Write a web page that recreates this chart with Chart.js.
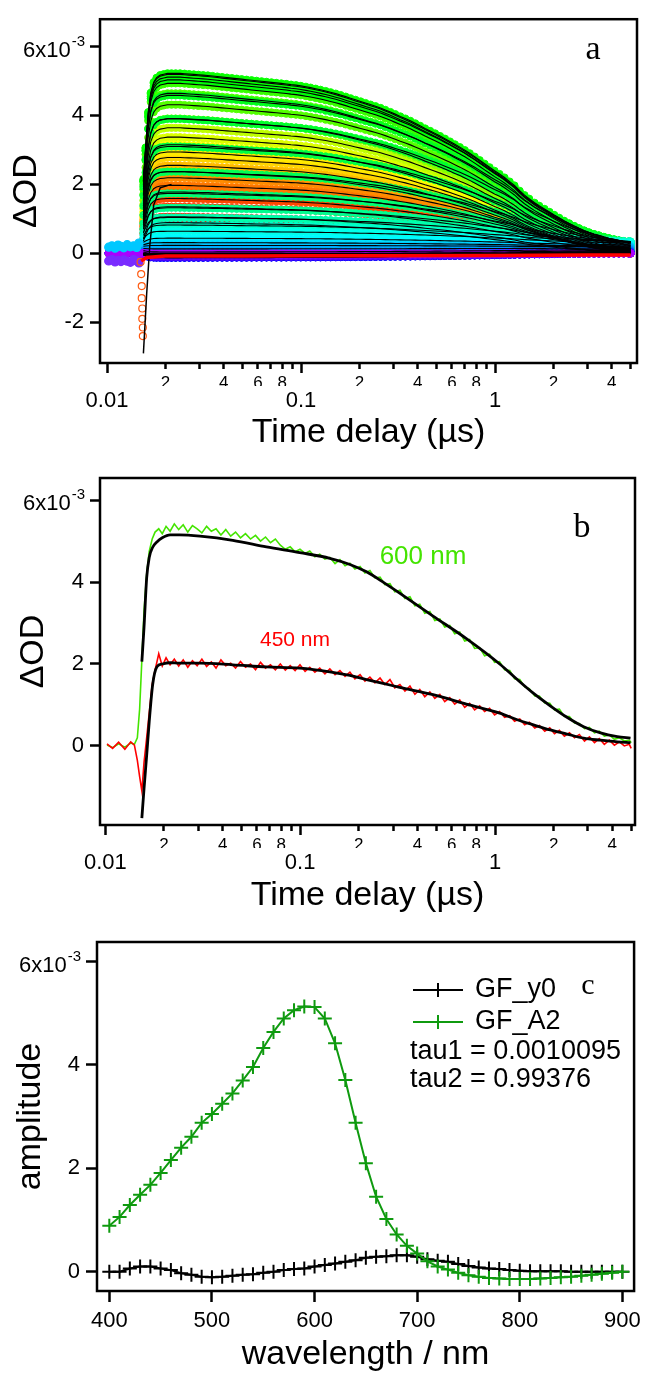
<!DOCTYPE html>
<html>
<head>
<meta charset="utf-8">
<script src="https://cdn.jsdelivr.net/npm/chart.js@4.4.1/dist/chart.umd.min.js"></script>
<style>
  html, body { margin: 0; padding: 0; background: #fff; }
  #page { position: relative; width: 647px; height: 1378px; }
  .panel { position: absolute; left: 0; width: 647px; }
</style>
</head>
<body>
<div id="page">
  <div class="panel" style="top:0;height:450px"><canvas id="chartA"></canvas></div>
  <div class="panel" style="top:450px;height:463px"><canvas id="chartB"></canvas></div>
  <div class="panel" style="top:913px;height:465px"><canvas id="chartC"></canvas></div>
</div>
<script>
// values in units of 1e-3 OD

// time grid of the recorded traces (us)
const tData = [
  0.0102, 0.0109, 0.0117, 0.0126, 0.0135, 0.0141, 0.0146, 0.0150, 0.0154, 0.0158,
  0.0163, 0.0168, 0.0174, 0.0180, 0.0188, 0.0196, 0.0205, 0.0215, 0.0226, 0.0238,
  0.0251, 0.0265, 0.0280, 0.0296, 0.0313, 0.0331, 0.0350, 0.0370, 0.0392, 0.0415,
  0.0440, 0.0466, 0.0494, 0.0524, 0.0556, 0.0590, 0.0626, 0.0664, 0.0704, 0.0746,
  0.0791, 0.0839, 0.0889, 0.0942, 0.0998, 0.106, 0.112, 0.119, 0.126, 0.134,
  0.142, 0.151, 0.160, 0.170, 0.180, 0.191, 0.203, 0.215, 0.228, 0.242,
  0.257, 0.272, 0.289, 0.306, 0.325, 0.345, 0.366, 0.388, 0.411, 0.436,
  0.463, 0.491, 0.521, 0.552, 0.586, 0.621, 0.659, 0.699, 0.741, 0.786,
  0.834, 0.884, 0.938, 0.995, 1.055, 1.12, 1.19, 1.26, 1.34, 1.42,
  1.50, 1.60, 1.69, 1.80, 1.91, 2.02, 2.14, 2.27, 2.41, 2.56,
  2.71, 2.88, 3.05, 3.24, 3.43, 3.64, 3.86, 4.10, 4.35, 4.61,
  4.89, 5.00
];

// normalised kinetic profile of the global fit (panel a), null before t0
const profileA = [
  null, null, null, null, null, null, null, null, 0.40, 0.58,
  0.78, 0.89, 0.95, 0.975, 0.99, 0.995, 1.0, 1.0, 1.0, 1.0,
  0.998, 0.996, 0.994, 0.992, 0.990, 0.988, 0.985, 0.982, 0.979, 0.976,
  0.973, 0.970, 0.967, 0.964, 0.961, 0.958, 0.955, 0.952, 0.949, 0.946,
  0.943, 0.940, 0.936, 0.933, 0.929, 0.924, 0.919, 0.913, 0.907, 0.900,
  0.893, 0.885, 0.877, 0.868, 0.859, 0.850, 0.841, 0.832, 0.823, 0.814,
  0.804, 0.793, 0.781, 0.769, 0.756, 0.744, 0.731, 0.717, 0.703, 0.688,
  0.674, 0.660, 0.645, 0.630, 0.614, 0.598, 0.582, 0.565, 0.547, 0.528,
  0.508, 0.488, 0.468, 0.448, 0.430, 0.410, 0.387, 0.365, 0.335, 0.310,
  0.290, 0.267, 0.250, 0.232, 0.215, 0.198, 0.182, 0.165, 0.150, 0.135,
  0.122, 0.109, 0.098, 0.088, 0.080, 0.071, 0.063, 0.056, 0.049, 0.042,
  0.036, 0.032
];

// panel b traces
const trace600 = [
  0.02, -0.04, 0.05, -0.03, 0.07, 0.04, 0.20, 0.90, 2.10, 3.30,
  4.20, 4.75, 5.05, 5.22, 5.30, 5.18, 5.36, 5.24, 5.42, 5.28,
  5.40, 5.22, 5.38, 5.30, 5.20, 5.36, 5.24, 5.30, 5.15, 5.28,
  5.12, 5.22, 5.08, 5.18, 5.05, 5.14, 5.00, 5.10, 4.96, 5.05,
  4.90, 4.80, 4.86, 4.74, 4.80, 4.70, 4.76, 4.62, 4.68, 4.56,
  4.60, 4.45, 4.55, 4.40, 4.46, 4.32, 4.38, 4.22, 4.28, 4.10,
  4.12, 3.94, 3.96, 3.76, 3.80, 3.60, 3.64, 3.42, 3.46, 3.24,
  3.28, 3.06, 3.10, 2.90, 2.94, 2.74, 2.78, 2.56, 2.60, 2.38,
  2.40, 2.20, 2.24, 2.04, 2.06, 1.86, 1.84, 1.64, 1.62, 1.44,
  1.40, 1.22, 1.22, 1.05, 1.04, 0.88, 0.90, 0.72, 0.72, 0.56,
  0.55, 0.42, 0.45, 0.32, 0.36, 0.24, 0.27, 0.16, 0.20, 0.12,
  0.14, 0.08
];
const trace450 = [
  0.05, -0.06, 0.09, -0.08, 0.10, 0.02, -0.35, -0.75, -1.10, -0.40,
  0.20, 0.80, 1.50, 1.85, 2.25, 1.95, 2.15, 1.98, 2.12, 1.95,
  2.10, 1.92, 2.08, 1.96, 2.12, 1.94, 2.05, 1.90, 2.10, 1.96,
  2.02, 1.90, 2.06, 1.92, 2.00, 1.86, 2.04, 1.90, 1.98, 1.86,
  2.00, 1.85, 1.96, 1.84, 1.98, 1.82, 1.92, 1.80, 1.90, 1.76,
  1.88, 1.74, 1.84, 1.70, 1.80, 1.64, 1.74, 1.58, 1.68, 1.54,
  1.66, 1.50, 1.62, 1.42, 1.50, 1.34, 1.46, 1.26, 1.38, 1.20,
  1.32, 1.16, 1.26, 1.08, 1.18, 1.02, 1.12, 0.94, 1.04, 0.88,
  0.98, 0.84, 0.92, 0.76, 0.84, 0.70, 0.74, 0.60, 0.66, 0.52,
  0.58, 0.44, 0.50, 0.36, 0.44, 0.30, 0.38, 0.24, 0.32, 0.20,
  0.28, 0.12, 0.22, 0.08, 0.18, 0.04, 0.14, 0.02, 0.10, 0.00,
  0.04, -0.06
];

// panel b fits
const tFitB = [0.0154, 0.0158, 0.0163, 0.0168, 0.0175, 0.0184, 0.0196, 0.0215, 0.024, 0.0306,
  0.0451, 0.0671, 0.0994, 0.142, 0.180, 0.219, 0.270, 0.324, 0.481, 0.713,
  1.057, 1.30, 1.56, 1.92, 2.34, 2.85, 3.48, 4.24, 4.96];
const fit600 = [2.06, 2.9, 4.1, 4.6, 4.85, 4.98, 5.08, 5.15, 5.15, 5.12,
  5.02, 4.86, 4.72, 4.58, 4.43, 4.25, 3.98, 3.73, 3.17, 2.62,
  2.00, 1.62, 1.30, 0.98, 0.70, 0.47, 0.32, 0.23, 0.19];
const fit450 = [-1.76, -1.04, -0.23, 0.59, 1.5, 1.93, 2.0, 2.03, 2.02, 2.02,
  1.98, 1.93, 1.9, 1.81, 1.72, 1.62, 1.52, 1.43, 1.25, 1.02,
  0.80, 0.64, 0.52, 0.39, 0.29, 0.19, 0.14, 0.10, 0.08];

// panel a: early negative spike, pre-trigger scatter and red baseline trace
const dipFitT = [0.0154, 0.0160, 0.0166, 0.0174, 0.0188, 0.0215];
const dipFitV = [-2.9, -1.2, 0.2, 1.4, 1.9, 2.0];
const dipDataT = [0.0149, 0.0150, 0.0151, 0.0151, 0.0152, 0.0152, 0.0153, 0.0153];
const dipDataV = [-0.25, -0.6, -0.95, -1.3, -1.6, -1.9, -2.15, -2.4];
const preT = [0.0102, 0.0106, 0.0110, 0.0114, 0.0118, 0.0122, 0.0127, 0.0132, 0.0137, 0.0142, 0.0146];
const preHi = [0.18, 0.22, 0.15, 0.24, 0.20, 0.16, 0.25, 0.19, 0.22, 0.17, 0.30];
const preLo = [-0.22, -0.18, -0.25, -0.20, -0.24, -0.19, -0.23, -0.26, -0.18, -0.22, -0.28];
const redBaseT = [0.0150, 0.0160, 0.0200, 0.0500, 0.100, 0.300, 1.00, 3.00, 5.00];
const redBaseV = [-0.22, -0.12, -0.08, -0.08, -0.07, -0.07, -0.06, -0.05, -0.05];

// panel c: global-fit spectra
const wavelengths = [400, 410, 420, 430, 440, 450, 460, 470, 480, 490,
  500, 510, 520, 530, 540, 550, 560, 570, 580, 590,
  600, 610, 620, 630, 640, 650, 660, 670, 680, 690,
  700, 710, 720, 730, 740, 750, 760, 770, 780, 790,
  800, 810, 820, 830, 840, 850, 860, 870, 880, 890, 900];
const specY0 = [0.00, 0.00, 0.06, 0.10, 0.10, 0.06, 0.03, -0.03, -0.06, -0.10,
  -0.11, -0.10, -0.08, -0.06, -0.05, -0.02, 0.00, 0.03, 0.05, 0.06,
  0.10, 0.13, 0.16, 0.19, 0.22, 0.27, 0.29, 0.30, 0.32, 0.32,
  0.29, 0.24, 0.21, 0.19, 0.15, 0.11, 0.08, 0.06, 0.05, 0.03,
  0.02, 0.01, 0.01, 0.01, 0.01, 0.00, 0.00, 0.00, 0.00, 0.00, 0.00];
const specA2 = [0.89, 1.06, 1.29, 1.49, 1.68, 1.91, 2.16, 2.40, 2.61, 2.88,
  3.05, 3.25, 3.45, 3.70, 3.96, 4.33, 4.64, 4.90, 5.06, 5.13,
  5.12, 4.90, 4.42, 3.71, 2.88, 2.10, 1.45, 1.02, 0.72, 0.50,
  0.35, 0.20, 0.10, 0.04, -0.02, -0.07, -0.10, -0.12, -0.13, -0.14,
  -0.14, -0.14, -0.13, -0.12, -0.11, -0.10, -0.08, -0.06, -0.04, -0.02, 0.00];

// ticks
const timeTicks = [0.01, 0.02, 0.03, 0.04, 0.05, 0.06, 0.07, 0.08, 0.09,
  0.1, 0.2, 0.3, 0.4, 0.5, 0.6, 0.7, 0.8, 0.9, 1, 2, 3, 4, 5];
const timeTickLabels = ["", "2", "", "4", "", "6", "", "8", "",
  "", "2", "", "4", "", "6", "", "8", "", "", "2", "", "4", ""];
const timeMajor = [0.01, 0.1, 1];
const timeMajorLabels = ["0.01", "0.1", "1"];
const odTicks = [-2, 0, 2, 4, 6];
const odTickLabels = ["-2", "0", "2", "4", ""]; // 6x10^-3 is drawn with its exponent by expoLabel
const wlTicks = [400, 500, 600, 700, 800, 900];

// rainbow colour table for the wavelength traces of panel a (wavelength -> hue)
const hueAnchorsWl = [400, 450, 500, 530, 550, 600, 650, 700, 800, 900];
const hueAnchors = [0, 28, 55, 75, 100, 118, 140, 175, 235, 280];

const SANS = "'Liberation Sans', Arial, sans-serif";
const SERIF = "'Liberation Serif', 'Times New Roman', serif";
const GREEN_B = "#44e400";
const GREEN_C = "#0f9a0f";

Chart.defaults.color = "#000";
Chart.defaults.font.family = SANS;

const pts = (xs, ys) => xs.map((x, i) => ({ x: x, y: ys[i] }));

function hueFor(wl) {
  for (let k = 1; k < hueAnchorsWl.length; k++) {
    if (wl <= hueAnchorsWl[k]) {
      const f = (wl - hueAnchorsWl[k - 1]) / (hueAnchorsWl[k] - hueAnchorsWl[k - 1]);
      return Math.round(hueAnchors[k - 1] + f * (hueAnchors[k] - hueAnchors[k - 1]));
    }
  }
  return hueAnchors[hueAnchors.length - 1];
}

const framePlugin = {
  id: "frame",
  afterDatasetsDraw(chart) {
    const { ctx, chartArea: a } = chart;
    ctx.save();
    ctx.lineWidth = 2.5;
    ctx.strokeStyle = "#000";
    ctx.strokeRect(a.left, a.top, a.right - a.left, a.bottom - a.top);
    ctx.restore();
  },
};

// "6x10^-3" label at the top y tick, with a raised exponent
const expoLabel = {
  id: "expoLabel",
  afterDraw(chart) {
    const s = chart.scales.y;
    const ctx = chart.ctx;
    const y = s.getPixelForValue(6);
    const xr = s.right - s.options.grid.tickLength - s.options.ticks.padding;
    ctx.save();
    ctx.fillStyle = "#000";
    ctx.textAlign = "right";
    ctx.textBaseline = "middle";
    ctx.font = `15px ${SANS}`;
    ctx.fillText("-3", xr + 1, y - 5);
    const w = ctx.measureText("-3").width;
    ctx.font = `22px ${SANS}`;
    ctx.fillText("6x10", xr - w, y + 4);
    ctx.restore();
  },
};

function notesPlugin(items) {
  return {
    id: "notes",
    afterDraw(chart) {
      const ctx = chart.ctx;
      ctx.save();
      ctx.textBaseline = "middle";
      items.forEach((it) => {
        ctx.font = it.font;
        ctx.fillStyle = it.color || "#000";
        ctx.textAlign = it.align || "center";
        ctx.fillText(it.text, it.x, it.y);
      });
      ctx.restore();
    },
  };
}

function timeAxes(min, max, majHeight) {
  return {
    x: {
      type: "logarithmic", position: "bottom", min: min, max: max, bounds: "data",
      afterBuildTicks: (s) => { s.ticks = timeTicks.map((v) => ({ value: v })); },
      afterFit: (s) => { s.height = 23; },
      border: { display: false },
      grid: {
        drawOnChartArea: false, tickLength: 10, tickWidth: 2.5, tickColor: "#000",
        tickBorderDash: (c) => (c.tick && timeMajor.includes(c.tick.value) ? [] : [6, 40]),
      },
      ticks: {
        autoSkip: false, maxRotation: 0, minRotation: 0, padding: 0, color: "#000",
        font: { family: SANS, size: 17 },
        callback: (v) => timeTickLabels[timeTicks.indexOf(v)] || "",
      },
    },
    xMaj: {
      type: "logarithmic", position: "bottom", weight: 1, min: min, max: max, bounds: "data",
      afterBuildTicks: (s) => { s.ticks = timeMajor.map((v) => ({ value: v })); },
      afterFit: (s) => { s.height = majHeight; },
      border: { display: false },
      grid: { display: false, drawTicks: false },
      ticks: {
        autoSkip: false, maxRotation: 0, minRotation: 0, padding: 2, color: "#000",
        font: { family: SANS, size: 22 },
        callback: (v) => timeMajorLabels[timeMajor.indexOf(v)] || "",
      },
      title: {
        display: true, text: "Time delay (\u00B5s)", color: "#000",
        font: { family: SANS, size: 34, lineHeight: 1 }, padding: { top: 0, bottom: 0 },
      },
    },
  };
}

function odAxis(min, max, ticks, title, titlePad, width, tickLen) {
  return {
    min: min, max: max, bounds: "data",
    afterBuildTicks: (s) => { s.ticks = ticks.map((v) => ({ value: v })); },
    afterFit: (s) => { s.width = width; },
    border: { display: false },
    grid: { drawOnChartArea: false, tickLength: tickLen, tickWidth: 2.5, tickColor: "#000" },
    ticks: {
      padding: 6, color: "#000", font: { family: SANS, size: 22 },
      callback: (v) => odTickLabels[odTicks.indexOf(v)],
    },
    title: {
      display: true, text: title, color: "#000",
      font: { family: SANS, size: 34, lineHeight: 1 }, padding: { top: titlePad, bottom: 0 },
    },
  };
}

const baseOptions = {
  responsive: true,
  maintainAspectRatio: false,
  animation: false,
  events: [],
  plugins: { legend: { display: false }, tooltip: { enabled: false } },
};

// ---------- panel a ----------
const setsA = [];
wavelengths.forEach((wl, i) => {
  const fitPts = [];
  tData.forEach((t, j) => {
    if (profileA[j] !== null) fitPts.push({ x: t, y: specY0[i] + specA2[i] * profileA[j] });
  });
  setsA.push({ data: fitPts, borderColor: "#000", borderWidth: 1.1, pointRadius: 0, order: 0 });
});
setsA.push({ data: pts(dipFitT, dipFitV), borderColor: "#000", borderWidth: 1.5, pointRadius: 0, order: 0 });
setsA.push({ data: pts(redBaseT, redBaseV), borderColor: "#ff0000", borderWidth: 3.5, pointRadius: 0, order: -1 });
setsA.push({
  data: pts(dipDataT, dipDataV), showLine: false, pointRadius: 3.5, pointBorderWidth: 1.2,
  pointBorderColor: "#ff5a10", pointBackgroundColor: "rgba(0,0,0,0)", order: 10,
});
[[preHi, "#00c8ff"], [preLo, "#7a2cff"]].forEach(([vals, col], k) => {
  setsA.push({
    data: pts(preT, vals), showLine: false, pointRadius: 4, pointBorderWidth: 1.2,
    pointBorderColor: col, pointBackgroundColor: col, order: 20 + k,
  });
});
wavelengths.forEach((wl, i) => {
  const col = `hsl(${hueFor(wl)}, 100%, 50%)`;
  setsA.push({
    data: tData.map((t, j) => ({ x: t, y: profileA[j] === null ? 0 : specY0[i] + specA2[i] * profileA[j] })),
    showLine: false, pointStyle: "circle", pointRadius: 3.6, pointBorderWidth: 1,
    pointBorderColor: col, pointBackgroundColor: col, order: 100 - i,
  });
});

new Chart(document.getElementById("chartA"), {
  type: "line",
  data: { datasets: setsA },
  options: {
    ...baseOptions,
    layout: { padding: { top: 14, right: 10, left: 0, bottom: 0 } },
    scales: {
      ...timeAxes(0.0092, 5.395, 64),
      y: odAxis(-3.18, 6.79, odTicks, "\u0394OD", 10, 100, 10),
    },
  },
  plugins: [framePlugin, expoLabel, notesPlugin([
    { text: "a", x: 593, y: 50, font: `34px ${SERIF}` },
  ])],
});

// ---------- panel b ----------
new Chart(document.getElementById("chartB"), {
  type: "line",
  data: {
    datasets: [
      { data: pts(tFitB, fit600), borderColor: "#000", borderWidth: 2.8, pointRadius: 0, cubicInterpolationMode: "monotone", order: 0 },
      { data: pts(tFitB, fit450), borderColor: "#000", borderWidth: 2.8, pointRadius: 0, cubicInterpolationMode: "monotone", order: 0 },
      { data: pts(tData, trace450), borderColor: "#ff0000", borderWidth: 1.6, pointRadius: 0, order: 1 },
      { data: pts(tData, trace600), borderColor: GREEN_B, borderWidth: 1.6, pointRadius: 0, order: 2 },
    ],
  },
  options: {
    ...baseOptions,
    layout: { padding: { top: 28, right: 12, left: 0, bottom: 0 } },
    scales: {
      ...timeAxes(0.00939, 5.23, 65),
      y: odAxis(-1.93, 6.54, [0, 2, 4, 6], "\u0394OD", 17, 100, 10),
    },
  },
  plugins: [framePlugin, expoLabel, notesPlugin([
    { text: "b", x: 582, y: 78, font: `34px ${SERIF}` },
    { text: "600 nm", x: 423, y: 107, font: `26px ${SANS}`, color: GREEN_B },
    { text: "450 nm", x: 295, y: 190, font: `21px ${SANS}`, color: "#ff0000" },
  ])],
});

// ---------- panel c ----------
const legendC = {
  id: "legendC",
  afterDraw(chart) {
    const ctx = chart.ctx;
    ctx.save();
    [["GF_y0", "#000", 77], ["GF_A2", GREEN_C, 109]].forEach(([label, col, y]) => {
      ctx.strokeStyle = col;
      ctx.lineWidth = 2;
      ctx.beginPath();
      ctx.moveTo(413, y); ctx.lineTo(463, y);
      ctx.moveTo(438, y - 7); ctx.lineTo(438, y + 7);
      ctx.stroke();
      ctx.fillStyle = "#000";
      ctx.font = `27px ${SANS}`;
      ctx.textAlign = "left";
      ctx.textBaseline = "middle";
      ctx.fillText(label, 475, y);
    });
    ctx.fillText("tau1 = 0.0010095", 410, 139);
    ctx.fillText("tau2 = 0.99376", 410, 167);
    ctx.font = `30px ${SERIF}`;
    ctx.textAlign = "center";
    ctx.fillText("c", 588, 73);
    ctx.restore();
  },
};

new Chart(document.getElementById("chartC"), {
  type: "line",
  data: {
    datasets: [
      {
        label: "GF_A2", data: pts(wavelengths, specA2), borderColor: GREEN_C, borderWidth: 2,
        pointStyle: "cross", pointRadius: 7, pointBorderWidth: 2, pointBorderColor: GREEN_C, order: 0,
      },
      {
        label: "GF_y0", data: pts(wavelengths, specY0), borderColor: "#000", borderWidth: 2,
        pointStyle: "cross", pointRadius: 7, pointBorderWidth: 2, pointBorderColor: "#000", order: 1,
      },
    ],
  },
  options: {
    ...baseOptions,
    layout: { padding: { top: 29, right: 12, left: 0, bottom: 6 } },
    scales: {
      x: {
        type: "linear", min: 388, max: 911.4, bounds: "data",
        afterBuildTicks: (s) => { s.ticks = wlTicks.map((v) => ({ value: v })); },
        afterFit: (s) => { s.height = 81; },
        border: { display: false },
        grid: { drawOnChartArea: false, tickLength: 11, tickWidth: 2.5, tickColor: "#000" },
        ticks: { autoSkip: false, maxRotation: 0, padding: 6, color: "#000", font: { family: SANS, size: 22 } },
        title: {
          display: true, text: "wavelength / nm", color: "#000",
          font: { family: SANS, size: 34, lineHeight: 1 }, padding: { top: 0, bottom: 0 },
        },
      },
      y: odAxis(-0.374, 6.38, [0, 2, 4, 6], "amplitude", 14, 97, 11),
    },
  },
  plugins: [framePlugin, expoLabel, legendC],
});
</script>
</body>
</html>
